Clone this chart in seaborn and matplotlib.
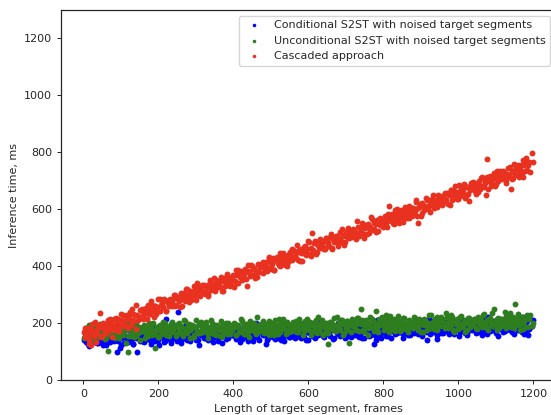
import numpy as np
import pandas as pd
import matplotlib
matplotlib.use('Agg')
import matplotlib.pyplot as plt
import seaborn as sns

# target segment lengths (frames), shared by the three systems
frames = [
    2, 5, 8, 13, 16, 19, 24, 27, 31, 34, 38, 43, 46, 50, 53, 58, 61, 65, 70, 74,
    78, 81, 85, 90, 93, 97, 100, 105, 108, 113, 116, 119, 124, 128, 131, 135, 140, 143, 148, 152,
    157, 160, 163, 168, 172, 175, 180, 183, 187, 192, 195, 199, 204, 207, 211, 216, 219, 223, 228, 232,
    236, 239, 244, 247, 251, 256, 260, 263, 267, 272, 275, 279, 284, 287, 291, 296, 300, 303, 308, 312,
    315, 319, 324, 328, 331, 335, 340, 343, 347, 352, 356, 359, 363, 368, 371, 375, 380, 384, 387, 392,
    396, 399, 403, 408, 411, 415, 420, 424, 427, 431, 436, 440, 443, 447, 452, 455, 459, 464, 468, 471,
    475, 480, 483, 487, 492, 496, 499, 503, 508, 511, 515, 520, 524, 527, 531, 536, 539, 543, 548, 552,
    555, 559, 564, 568, 571, 575, 580, 583, 587, 592, 596, 599, 603, 608, 611, 615, 620, 624, 627, 631,
    636, 639, 643, 648, 652, 655, 659, 664, 667, 671, 676, 680, 683, 687, 692, 695, 699, 704, 708, 711,
    715, 720, 723, 727, 732, 736, 739, 743, 748, 751, 755, 760, 764, 767, 771, 776, 779, 783, 788, 792,
    795, 799, 804, 808, 811, 815, 820, 823, 827, 832, 836, 839, 843, 848, 851, 855, 860, 864, 867, 871,
    876, 879, 883, 888, 892, 895, 899, 904, 907, 911, 916, 920, 923, 927, 932, 935, 939, 944, 948, 951,
    955, 960, 963, 967, 972, 976, 979, 983, 988, 991, 995, 1000, 1004, 1007, 1011, 1016, 1019, 1023, 1028, 1032,
    1035, 1039, 1044, 1048, 1051, 1055, 1060, 1063, 1067, 1072, 1076, 1079, 1083, 1088, 1091, 1095, 1100, 1104, 1107, 1111,
    1116, 1119, 1123, 1128, 1132, 1135, 1139, 1144, 1147, 1151, 1156, 1160, 1163, 1167, 1172, 1175, 1179, 1184, 1188, 1196,
    # second pass
    4, 7, 11, 14, 18, 21, 25, 29, 32, 36, 40, 45, 48, 51, 56, 60, 63, 67, 72, 76,
    79, 83, 88, 91, 95, 99, 103, 106, 111, 115, 118, 122, 126, 129, 133, 138, 141, 146, 150, 155,
    158, 162, 166, 170, 173, 178, 181, 185, 190, 193, 197, 202, 205, 209, 213, 217, 221, 226, 230, 234,
    237, 242, 245, 249, 254, 258, 261, 265, 270, 273, 277, 282, 285, 289, 294, 298, 301, 306, 310, 314,
    317, 322, 326, 329, 333, 338, 341, 345, 350, 354, 357, 361, 366, 369, 373, 378, 382, 385, 390, 394,
    397, 401, 406, 409, 413, 418, 422, 425, 429, 434, 438, 441, 445, 450, 453, 457, 462, 466, 469, 473,
    478, 481, 485, 490, 494, 497, 501, 506, 509, 513, 518, 522, 525, 529, 534, 537, 541, 546, 550, 553,
    557, 562, 566, 569, 573, 578, 581, 585, 590, 594, 597, 601, 606, 609, 613, 618, 622, 625, 629, 634,
    637, 641, 646, 650, 653, 657, 662, 665, 669, 674, 678, 681, 685, 690, 693, 697, 702, 706, 709, 713,
    718, 721, 725, 730, 734, 737, 741, 746, 749, 753, 758, 762, 765, 769, 774, 777, 781, 786, 790, 793,
    797, 802, 806, 809, 813, 818, 821, 825, 830, 834, 837, 841, 846, 849, 853, 858, 862, 865, 869, 874,
    877, 881, 886, 890, 893, 897, 902, 905, 909, 914, 918, 921, 925, 930, 933, 937, 942, 946, 949, 953,
    957, 961, 965, 970, 974, 977, 981, 986, 989, 993, 998, 1002, 1005, 1009, 1014, 1017, 1021, 1026, 1030, 1033,
    1037, 1042, 1046, 1049, 1053, 1058, 1061, 1065, 1070, 1074, 1077, 1081, 1086, 1089, 1093, 1098, 1102, 1105, 1109, 1113,
    1118, 1121, 1126, 1130, 1133, 1137, 1142, 1145, 1149, 1154, 1158, 1161, 1165, 1170, 1173, 1177, 1182, 1186, 1192, 1199,
]

# inference time (ms), conditional S2ST
cond_ms = [
    139, 161, 152, 126, 165, 143, 157, 174, 133, 150, 129, 159, 141, 180, 135, 155, 123, 163, 149, 140,
    158, 136, 172, 100, 164, 112, 146, 167, 131, 156, 179, 141, 150, 170, 126, 161, 165, 98, 176, 148,
    137, 165, 152, 180, 143, 160, 127, 171, 157, 147, 176, 140, 166, 151, 184, 135, 214, 146, 172, 154,
    172, 147, 177, 152, 238, 166, 180, 145, 161, 189, 141, 164, 148, 174, 156, 182, 139, 170, 123, 167,
    164, 182, 147, 168, 141, 178, 156, 189, 150, 162, 174, 138, 180, 153, 171, 187, 145, 166, 158, 183,
    157, 182, 172, 149, 189, 160, 176, 143, 194, 170, 151, 184, 163, 179, 138, 175, 199, 155, 181, 192,
    179, 159, 192, 126, 149, 173, 198, 153, 169, 145, 182, 162, 176, 140, 186, 156, 171, 189, 151, 175,
    164, 188, 146, 173, 180, 157, 197, 168, 151, 184, 175, 139, 191, 163, 181, 155, 208, 170, 161, 186,
    180, 153, 186, 169, 197, 161, 174, 190, 147, 182, 165, 202, 157, 179, 170, 193, 152, 185, 163, 176,
    162, 185, 198, 159, 180, 170, 191, 148, 194, 175, 202, 165, 184, 157, 189, 126, 153, 210, 171, 186,
    200, 176, 164, 190, 154, 195, 172, 184, 207, 161, 179, 193, 170, 202, 149, 186, 196, 167, 182, 159,
    180, 197, 172, 209, 161, 188, 194, 166, 185, 201, 139, 190, 177, 206, 169, 192, 181, 158, 198, 187,
    195, 166, 191, 201, 177, 215, 171, 187, 162, 196, 205, 181, 168, 194, 210, 175, 189, 158, 199, 183,
    176, 211, 183, 196, 168, 201, 189, 159, 205, 194, 179, 221, 173, 192, 182, 207, 166, 198, 185, 214,
    206, 184, 173, 212, 194, 179, 219, 167, 200, 190, 205, 175, 213, 182, 196, 161, 203, 209, 180, 191,
    # second pass
    150, 133, 158, 121, 169, 142, 136, 164, 145, 129, 180, 140, 153, 124, 161, 138, 149, 172, 132, 143,
    142, 171, 146, 136, 160, 122, 166, 150, 175, 141, 132, 156, 169, 143, 127, 162, 148, 179, 138, 154,
    167, 132, 160, 147, 175, 142, 154, 184, 138, 149, 164, 122, 170, 151, 161, 136, 177, 145, 158, 129,
    143, 165, 176, 137, 155, 170, 130, 182, 149, 159, 144, 174, 136, 167, 153, 188, 146, 140, 169, 158,
    170, 148, 157, 183, 144, 166, 152, 135, 176, 159, 180, 150, 168, 129, 174, 154, 186, 146, 160, 169,
    158, 180, 144, 173, 152, 134, 170, 149, 185, 160, 137, 175, 166, 146, 190, 155, 151, 181, 140, 168,
    185, 157, 170, 142, 179, 162, 195, 151, 165, 175, 146, 182, 156, 171, 138, 187, 160, 176, 150, 168,
    156, 181, 151, 176, 194, 162, 148, 183, 167, 139, 187, 164, 180, 154, 172, 146, 189, 158, 205, 161,
    170, 152, 187, 166, 193, 156, 178, 145, 184, 172, 160, 196, 154, 181, 163, 147, 189, 168, 176, 151,
    183, 158, 168, 191, 151, 180, 164, 197, 146, 170, 189, 156, 177, 161, 202, 165, 141, 185, 159, 148,
    167, 187, 154, 182, 197, 173, 148, 193, 177, 201, 164, 184, 170, 206, 160, 190, 175, 157, 195, 171,
    188, 164, 206, 179, 172, 195, 155, 184, 201, 168, 177, 213, 161, 189, 171, 197, 144, 182, 191, 166,
    178, 205, 172, 189, 161, 197, 184, 168, 211, 176, 193, 156, 201, 179, 188, 165, 206, 173, 195, 182,
    202, 179, 166, 205, 184, 194, 173, 216, 170, 189, 162, 199, 180, 207, 175, 186, 211, 154, 193, 178,
    170, 194, 206, 180, 216, 175, 198, 186, 163, 209, 191, 177, 200, 168, 221, 184, 174, 157, 188, 211,
]

# inference time (ms), unconditional S2ST
uncond_ms = [
    149, 172, 157, 186, 176, 139, 192, 160, 183, 169, 151, 197, 174, 162, 185, 144, 180, 102, 166, 190,
    177, 188, 148, 171, 182, 159, 196, 167, 180, 129, 191, 100, 156, 184, 178, 151, 199, 162, 187, 170,
    172, 188, 147, 178, 164, 199, 183, 157, 170, 112, 185, 151, 176, 160, 204, 166, 190, 180, 155, 184,
    203, 174, 187, 155, 196, 171, 181, 162, 210, 168, 183, 194, 148, 178, 190, 157, 185, 172, 200, 165,
    179, 168, 197, 191, 149, 184, 170, 201, 163, 193, 178, 188, 155, 207, 167, 182, 200, 161, 172, 194,
    174, 183, 197, 157, 189, 169, 214, 175, 193, 163, 184, 167, 208, 191, 177, 199, 160, 186, 195, 173,
    180, 208, 167, 197, 193, 158, 202, 182, 173, 211, 188, 163, 199, 178, 214, 196, 175, 204, 168, 190,
    186, 204, 178, 194, 167, 216, 183, 198, 172, 208, 179, 189, 203, 159, 192, 175, 212, 184, 197, 169,
    198, 159, 201, 170, 126, 187, 205, 179, 195, 172, 220, 192, 176, 211, 197, 165, 183, 208, 130, 203,
    214, 189, 197, 176, 218, 202, 250, 211, 169, 205, 193, 181, 220, 187, 209, 172, 242, 178, 213, 195,
    222, 211, 185, 229, 205, 168, 209, 193, 214, 181, 200, 224, 173, 206, 190, 219, 179, 202, 212, 187,
    205, 181, 219, 201, 186, 216, 170, 206, 192, 212, 175, 199, 183, 228, 203, 179, 194, 222, 189, 209,
    215, 190, 199, 237, 184, 210, 192, 220, 168, 204, 213, 180, 197, 226, 186, 209, 202, 175, 217, 193,
    205, 192, 214, 181, 222, 199, 208, 186, 231, 194, 211, 176, 219, 203, 190, 250, 198, 215, 182, 209,
    215, 200, 239, 182, 207, 218, 186, 213, 194, 268, 204, 223, 177, 220, 199, 209, 188, 227, 214, 191,
    # second pass
    151, 179, 166, 194, 157, 174, 141, 185, 171, 161, 190, 154, 180, 165, 198, 149, 176, 160, 186, 168,
    186, 161, 191, 166, 148, 180, 194, 159, 175, 203, 155, 178, 162, 188, 170, 196, 153, 184, 142, 181,
    177, 195, 160, 181, 154, 191, 169, 202, 163, 175, 187, 151, 193, 166, 184, 200, 158, 179, 171, 196,
    170, 195, 185, 162, 202, 173, 189, 156, 207, 183, 164, 197, 176, 192, 151, 188, 212, 168, 194, 205,
    191, 171, 204, 176, 161, 185, 210, 165, 181, 157, 194, 174, 188, 152, 198, 168, 183, 201, 163, 187,
    176, 200, 158, 185, 192, 169, 209, 180, 163, 196, 187, 151, 203, 175, 193, 167, 220, 182, 173, 198,
    191, 164, 197, 180, 208, 172, 185, 201, 158, 193, 176, 213, 168, 190, 181, 204, 163, 196, 174, 187,
    173, 196, 209, 170, 191, 181, 202, 159, 205, 186, 213, 176, 195, 168, 200, 189, 164, 221, 182, 197,
    210, 186, 174, 200, 164, 205, 182, 194, 217, 171, 189, 203, 180, 212, 159, 196, 206, 177, 192, 169,
    190, 207, 182, 219, 171, 198, 204, 176, 195, 211, 157, 200, 187, 216, 179, 202, 191, 168, 208, 197,
    204, 175, 200, 210, 186, 224, 180, 196, 171, 205, 214, 190, 177, 203, 219, 184, 198, 167, 208, 192,
    185, 220, 192, 205, 177, 210, 198, 168, 214, 203, 188, 230, 182, 201, 191, 216, 175, 207, 194, 223,
    214, 192, 181, 220, 202, 187, 227, 175, 208, 198, 213, 183, 221, 190, 204, 169, 211, 217, 188, 199,
    193, 215, 206, 180, 219, 197, 211, 228, 187, 204, 183, 213, 195, 234, 189, 209, 177, 217, 203, 194,
    211, 189, 225, 196, 217, 235, 199, 220, 184, 209, 232, 194, 203, 223, 179, 214, 218, 188, 229, 201,
]

# inference time (ms), cascaded approach
cascade_ms = [
    168, 150, 184, 158, 128, 171, 198, 155, 173, 132, 189, 236, 187, 153, 201, 173, 190, 210, 174, 200,
    188, 214, 174, 203, 212, 191, 232, 206, 190, 226, 218, 184, 238, 212, 232, 208, 263, 227, 220, 247,
    241, 215, 250, 235, 265, 231, 246, 264, 223, 260, 245, 284, 241, 265, 258, 283, 244, 279, 259, 274,
    259, 284, 299, 262, 285, 277, 300, 259, 307, 290, 319, 284, 305, 280, 314, 305, 282, 341, 304, 321,
    334, 312, 302, 330, 296, 339, 318, 332, 357, 313, 333, 349, 328, 362, 311, 350, 362, 335, 352, 331,
    351, 370, 347, 386, 340, 369, 377, 351, 372, 390, 330, 383, 372, 403, 368, 393, 384, 363, 405, 396,
    403, 376, 403, 415, 393, 433, 391, 409, 386, 422, 433, 411, 400, 428, 446, 413, 429, 400, 443, 429,
    421, 458, 432, 447, 421, 456, 446, 418, 466, 457, 444, 488, 442, 463, 455, 482, 443, 477, 466, 497,
    488, 468, 459, 500, 484, 471, 513, 463, 498, 490, 507, 479, 519, 490, 506, 473, 517, 525, 498, 511,
    504, 528, 521, 497, 538, 518, 534, 553, 514, 533, 514, 546, 530, 571, 528, 550, 520, 562, 550, 543,
    559, 539, 577, 550, 573, 611, 559, 582, 548, 575, 600, 564, 575, 597, 555, 592, 598, 570, 613, 587,
    575, 605, 594, 624, 552, 608, 577, 623, 611, 603, 634, 600, 628, 615, 650, 603, 632, 618, 646, 630,
    647, 624, 656, 633, 617, 651, 667, 634, 652, 682, 636, 661, 647, 675, 659, 687, 646, 679, 628, 680,
    676, 696, 663, 686, 661, 700, 680, 715, 678, 692, 775, 672, 716, 691, 711, 729, 689, 712, 706, 733,
    706, 733, 725, 704, 746, 719, 670, 706, 759, 737, 720, 755, 736, 754, 715, 754, 780, 738, 766, 798,
    # second pass
    183, 156, 171, 140, 183, 122, 172, 155, 204, 164, 181, 195, 150, 182, 196, 165, 195, 184, 214, 150,
    195, 186, 217, 213, 173, 210, 198, 230, 195, 227, 213, 225, 194, 248, 210, 227, 180, 210, 223, 248,
    226, 237, 253, 215, 249, 231, 278, 241, 261, 233, 256, 241, 284, 269, 257, 281, 244, 272, 283, 263,
    270, 300, 261, 293, 291, 258, 304, 286, 279, 319, 298, 275, 313, 294, 332, 316, 297, 328, 294, 318,
    313, 333, 309, 327, 302, 353, 322, 339, 315, 353, 326, 338, 354, 312, 347, 332, 371, 345, 360, 334,
    363, 326, 370, 341, 386, 362, 382, 358, 376, 355, 405, 379, 365, 402, 390, 360, 380, 407, 379, 406,
    416, 393, 403, 384, 428, 414, 398, 427, 387, 425, 415, 405, 446, 415, 439, 404, 433, 414, 451, 435,
    462, 453, 429, 475, 453, 418, 461, 447, 470, 439, 460, 486, 437, 518, 458, 489, 451, 476, 488, 465,
    482, 460, 500, 484, 471, 503, 459, 497, 485, 507, 472, 498, 484, 531, 508, 486, 503, 533, 502, 524,
    530, 507, 518, 558, 507, 535, 519, 549, 499, 537, 548, 517, 536, 567, 529, 554, 549, 524, 568, 546,
    557, 546, 570, 539, 582, 561, 572, 552, 599, 564, 583, 550, 595, 581, 570, 608, 582, 601, 570, 599,
    604, 591, 632, 577, 604, 617, 587, 616, 599, 638, 613, 634, 590, 635, 616, 628, 609, 650, 639, 618,
    614, 639, 626, 657, 649, 614, 669, 639, 664, 652, 636, 684, 663, 653, 678, 639, 677, 653, 667, 693,
    679, 692, 654, 679, 692, 671, 710, 683, 698, 649, 713, 699, 682, 712, 708, 683, 733, 698, 725, 710,
    712, 730, 691, 724, 712, 749, 735, 711, 726, 752, 745, 713, 740, 726, 772, 736, 762, 754, 732, 765,
]

series = [
    ('Conditional S2ST with noised target segments', cond_ms, '#0000ff'),
    ('Unconditional S2ST with noised target segments', uncond_ms, '#2e7d1f'),
    ('Cascaded approach', cascade_ms, '#e8321f'),
]

sns.set_style('ticks')
plt.rcParams['font.family'] = ['DejaVu Sans']
plt.rcParams['font.size'] = 8
plt.rcParams['xtick.major.size'] = 2.8
plt.rcParams['ytick.major.size'] = 2.8
plt.rcParams['xtick.major.width'] = 0.7
plt.rcParams['ytick.major.width'] = 0.7
plt.rcParams['axes.linewidth'] = 0.9

fig = plt.figure(figsize=(5.51, 4.15), dpi=100)
ax = fig.add_axes([0.1107, 0.0843, 0.8983, 0.8916])

for label, values, color in series:
    df = pd.DataFrame({'frames': frames, 'ms': values})
    sns.scatterplot(data=df, x='frames', y='ms', color=color, s=18,
                    linewidth=0, label=label, ax=ax)

ax.set_xlim(-60, 1260)
ax.set_ylim(0, 1300)
ax.set_xticks([0, 200, 400, 600, 800, 1000, 1200])
ax.set_yticks([0, 200, 400, 600, 800, 1000, 1200])
ax.tick_params(labelsize=8)
ax.set_xlabel('Length of target segment, frames', fontsize=8)
ax.set_ylabel('Inference time, ms', fontsize=8)
ax.legend(loc='upper right', markerscale=0.6, fontsize=8, frameon=True)

fig.savefig('out.png', dpi=100)
